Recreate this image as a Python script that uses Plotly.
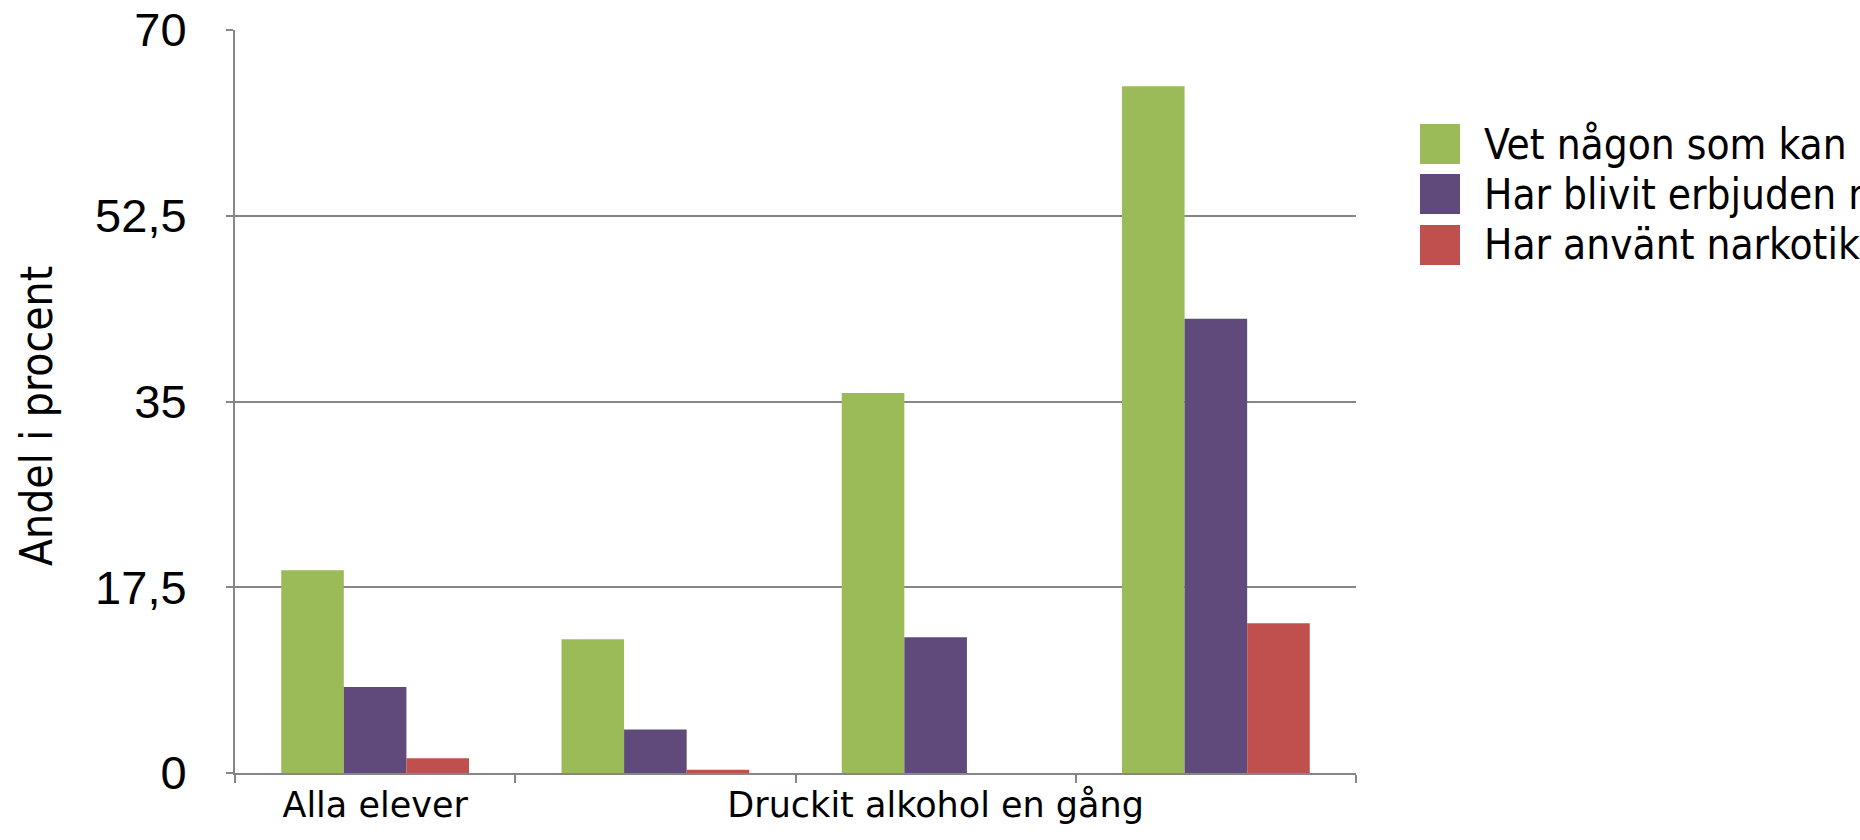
import plotly.graph_objects as go

# ---- data ----
categories = ["Alla elever", "Aldrig druckit alkohol", "Druckit alkohol en gång", "Druckit alkohol flera gånger"]
shown_tick_labels = ["Alla elever", "", "Druckit alkohol en gång", ""]
series_names = ["Vet någon som kan ge eller sälja narkotika", "Har blivit erbjuden narkotika", "Har använt narkotika"]
vet_nagon = [19.1, 12.6, 35.8, 64.7]
erbjuden = [8.1, 4.1, 12.8, 42.8]
anvant = [1.4, 0.3, 0.0, 14.1]
y_ticks = [0, 17.5, 35, 52.5, 70]
y_title = "Andel i procent"

series_values = [vet_nagon, erbjuden, anvant]
colors = ["#9BBB59", "#604A7B", "#C0504D"]

W, H = 1860, 840
L, R, T, B = 235, 1356, 30, 773

fig = go.Figure()
for name, vals, col in zip(series_names, series_values, colors):
    fig.add_trace(go.Bar(x=categories, y=vals, name=name, marker=dict(color=col, line=dict(width=0)),
                         showlegend=False))


def px_to_paper_x(px):
    return (px - L) / (R - L)


def px_to_paper_y(py):
    return (B - py) / (B - T)


# custom legend (large squares, text running off the right edge like the original)
sq_top = [124, 174, 225]
for name, col, top in zip(series_names, colors, sq_top):
    fig.add_shape(type="rect", xref="paper", yref="paper",
                  x0=px_to_paper_x(1420), x1=px_to_paper_x(1460),
                  y0=px_to_paper_y(top + 40), y1=px_to_paper_y(top),
                  fillcolor=col, line=dict(width=0))
    fig.add_annotation(xref="paper", yref="paper", x=px_to_paper_x(1482), y=px_to_paper_y(top + 20),
                       xanchor="left", yanchor="middle", text=name, showarrow=False,
                       font=dict(family="DejaVu Sans Condensed", size=42, color="black"))

# y-axis title
fig.add_annotation(xref="paper", yref="paper", x=px_to_paper_x(36), y=px_to_paper_y(416),
                   xanchor="center", yanchor="middle", text=y_title, textangle=-90, showarrow=False,
                   font=dict(family="DejaVu Sans Condensed", size=44, color="black"))

fig.update_layout(
    width=W, height=H,
    margin=dict(l=L, r=W - R, t=T, b=H - B, autoexpand=False),
    paper_bgcolor="white", plot_bgcolor="white",
    barmode="group", bargap=0.33, bargroupgap=0,
    separators=", ",
    showlegend=False,
)
fig.update_xaxes(
    type="category", tickmode="array", tickvals=categories, ticktext=shown_tick_labels,
    tickson="boundaries", ticks="outside", ticklen=8, tickwidth=2, tickcolor="#868686",
    tickangle=0,
    showline=True, linecolor="#868686", linewidth=2, showgrid=False,
    tickfont=dict(family="DejaVu Sans", size=35, color="black"),
)
fig.update_yaxes(
    range=[0, 70], tickmode="array", tickvals=y_ticks, ticktext=[f"{v:g}".replace(".", ",") for v in y_ticks],
    ticks="outside", ticklen=7, tickwidth=2, tickcolor="#868686",
    showline=True, linecolor="#868686", linewidth=2,
    showgrid=True, gridcolor="#868686", gridwidth=2, zeroline=False,
    ticklabelstandoff=30,
    tickfont=dict(family="Liberation Sans", size=47, color="black"),
)

fig.write_html("out.html", config={"displayModeBar": False},
               post_script="document.body.style.margin='0';")
